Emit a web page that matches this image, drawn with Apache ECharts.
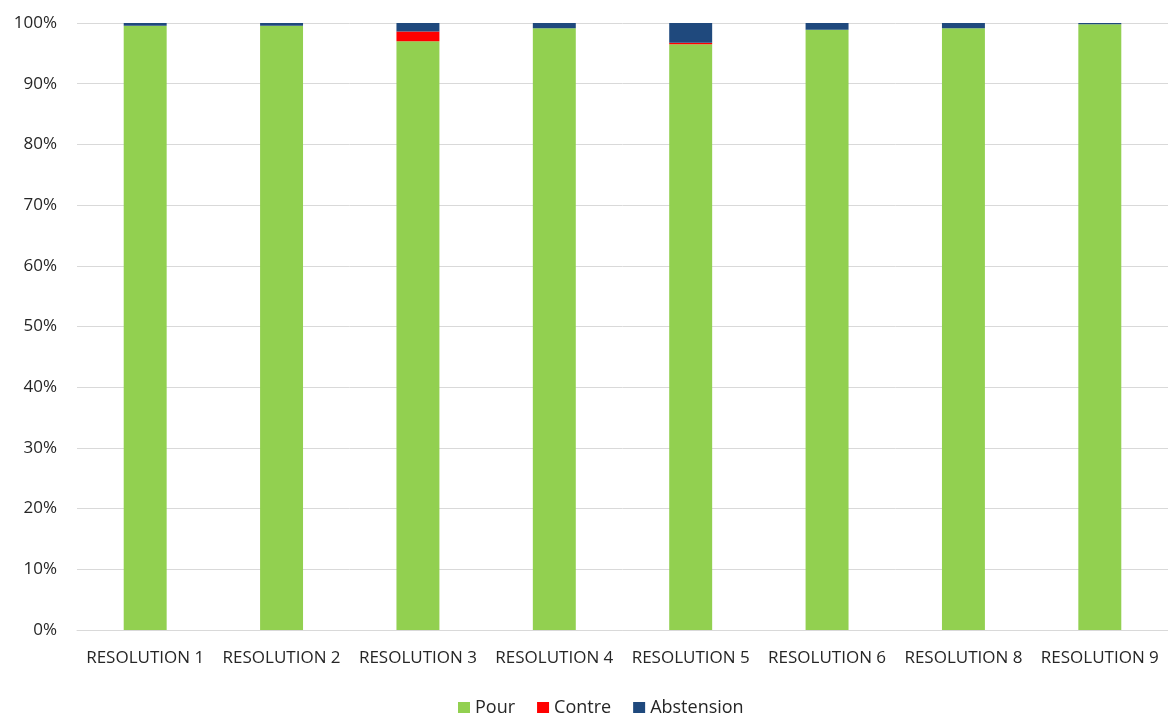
<!DOCTYPE html>
<html>
<head>
<meta charset="utf-8">
<script src="https://cdn.jsdelivr.net/npm/echarts@6/dist/echarts.min.js"></script>
<style>
html,body{margin:0;padding:0;background:#fff;}
#c{width:1168px;height:713px;}
</style>
</head>
<body>
<div id="c"></div>
<script>
const categories = ['RESOLUTION 1','RESOLUTION 2','RESOLUTION 3','RESOLUTION 4','RESOLUTION 5','RESOLUTION 6','RESOLUTION 8','RESOLUTION 9'];
const pour = [99.55, 99.55, 97.0, 99.15, 96.5, 98.9, 99.15, 99.8];
const contre = [0, 0, 1.6, 0, 0.25, 0, 0, 0];
const abstention = [0.45, 0.45, 1.4, 0.85, 3.25, 1.1, 0.85, 0.2];

const chart = echarts.init(document.getElementById('c'));
const font = "'Open Sans', 'Liberation Sans', sans-serif";
const txt = '#262626';
chart.setOption({
  animation: false,
  grid: {left: 77, right: 0, top: 23, bottom: 83},
  legend: {
    top: 694,
    left: 453,
    itemWidth: 12, itemHeight: 12, itemGap: 22,
    icon: 'rect',
    textStyle: {fontSize: 18, color: txt, fontFamily: font},
    data: ['Pour','Contre','Abstension']
  },
  xAxis: {
    type: 'category',
    data: categories,
    axisLine: {show: true, lineStyle: {color: '#d9d9d9'}},
    axisTick: {show: false},
    axisLabel: {fontSize: 17, color: txt, fontFamily: font, margin: 20, interval: 0}
  },
  yAxis: {
    type: 'value',
    min: 0, max: 100, interval: 10,
    axisLine: {show: false},
    axisTick: {show: false},
    splitLine: {lineStyle: {color: '#d9d9d9', width: 1}},
    axisLabel: {fontSize: 17, color: txt, fontFamily: font, margin: 20, formatter: '{value}%'}
  },
  series: [
    {name: 'Pour', type: 'bar', stack: 's', data: pour, barWidth: '31.5%', itemStyle: {color: '#92d050'}},
    {name: 'Contre', type: 'bar', stack: 's', data: contre, itemStyle: {color: '#ff0000'}},
    {name: 'Abstension', type: 'bar', stack: 's', data: abstention, itemStyle: {color: '#1f497d'}}
  ]
});
</script>
</body>
</html>
